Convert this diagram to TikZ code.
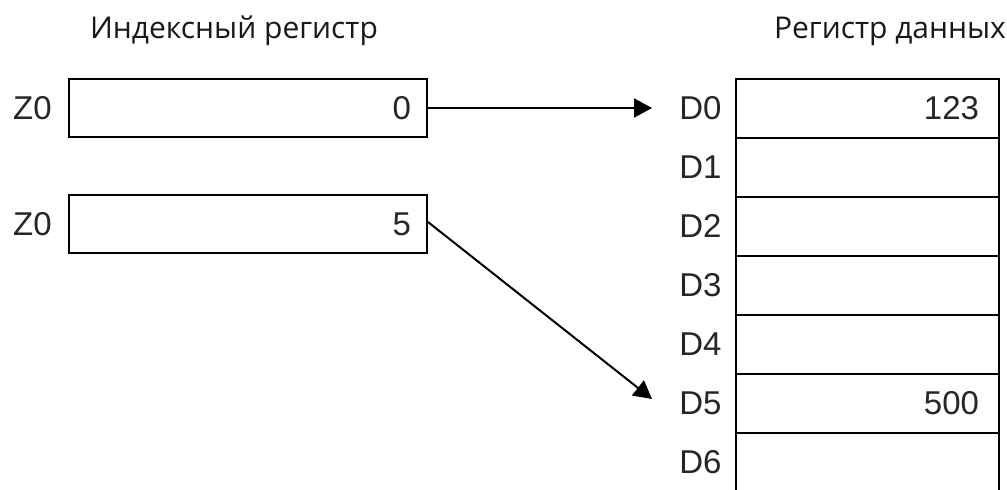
\documentclass[tikz,border=0pt]{standalone}
\usepackage{fontspec}
\setmainfont{Liberation Sans}
\newfontfamily\titlefont{Open Sans}
\usetikzlibrary{positioning,arrows.meta}
\tikzset{
  regbox/.style={draw,line width=1pt,minimum height=29pt,inner ysep=0pt,align=right},
  reglabel/.style={font=\fontsize{16.5}{18}\selectfont,text=black!85},
  regtitle/.style={font=\titlefont\fontsize{15}{17}\selectfont,text=black!90,anchor=base},
  ptr/.style={-{Triangle[length=9pt,width=9.5pt]},line width=1pt}
}
\begin{document}
\begin{tikzpicture}[x=0.5pt,y=-0.5pt]
      \useasboundingbox (0,0) rectangle (1007,489);
      \node[regtitle] (ititle) at (234,38) {Индексный регистр};
      \node[regtitle] (dtitle) at (890,38) {Регистр данных};
      % index registers
      \node[regbox,reglabel,text width=163pt,inner xsep=8pt] (zbox0) at (248,108) {0};
      \node[regbox,reglabel,text width=163pt,inner xsep=8pt] (zbox1) at (248,224) {5};
      \node[reglabel,left=8pt of zbox0,inner sep=0pt] (zlab0) {Z0};
      \node[reglabel,left=8pt of zbox1,inner sep=0pt] (zlab1) {Z0};
      % data registers
      \foreach \i/\v in {0/123,1/,2/,3/,4/,5/500,6/} {
        \node[regbox,reglabel,text width=111.5pt,inner xsep=10pt,minimum height=29.5pt] (dbox\i) at (867.5,{108+59*\i}) {\v};
        \node[reglabel,left=6.5pt of dbox\i,inner sep=0pt] (dlab\i) {D\i};
      }
      \draw[ptr] (zbox0.east) -- ([xshift=-13.5pt]dlab0.west);
      \draw[ptr] ([yshift=1pt]zbox1.east) -- ([xshift=-13.5pt,yshift=2pt]dlab5.west);
    \end{tikzpicture}
\end{document}
